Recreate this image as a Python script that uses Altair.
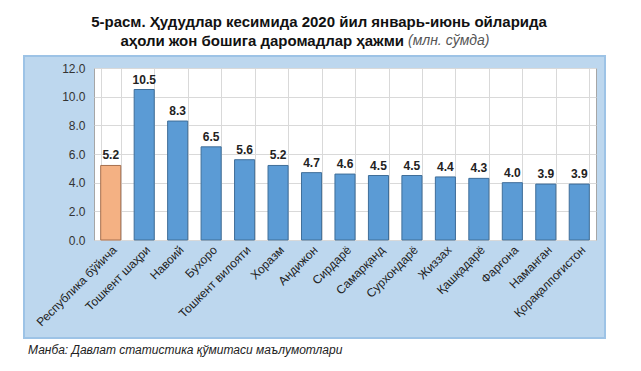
import altair as alt
import pandas as pd

regions = ["Республика бўйича", "Тошкент шаҳри", "Навоий", "Бухоро", "Тошкент вилояти",
           "Хоразм", "Андижон", "Сирдарё", "Самарқанд", "Сурхондарё", "Жиззах",
           "Қашқадарё", "Фарғона", "Наманган", "Қорақалпоғистон"]
values = [5.2, 10.5, 8.3, 6.5, 5.6, 5.2, 4.7, 4.6, 4.5, 4.5, 4.4, 4.3, 4.0, 3.9, 3.9]
kinds = ["total"] + ["region"] * 14

title_line1 = "5-расм. Ҳудудлар кесимида 2020 йил январь-июнь ойларида"
title_line2 = "аҳоли жон бошига даромадлар ҳажми"
title_unit = "(млн. сўмда)"
source = "Манба: Давлат статистика қўмитаси маълумотлари"

df = pd.DataFrame({"region": regions, "value": values, "kind": kinds})

W, H = 502, 172
FONT = "Liberation Sans"
PANEL = "#BDD7EE"
GRID = "#D9D9D9"

x = alt.X("region:N", sort=regions, title=None,
          scale=alt.Scale(paddingInner=0.4, paddingOuter=0.2),
          axis=alt.Axis(labelAngle=-45, labelFontSize=12, labelColor="#222",
                        labelFont=FONT, ticks=False, domain=False, grid=True,
                        tickBand="extent", gridColor=GRID, labelPadding=4,
                        labelLimit=200, labelOverlap=False))
y = alt.Y("value:Q", title=None,
          scale=alt.Scale(domain=[0, 12]),
          axis=alt.Axis(values=[0, 2, 4, 6, 8, 10, 12], format=".1f", ticks=False,
                        domain=False, grid=True, labelFontSize=12, labelColor="#333",
                        labelFont=FONT, labelPadding=9, gridColor=GRID,
                        labelOverlap=False))

bars = alt.Chart(df).mark_bar(strokeWidth=1).encode(
    x=x, y=y,
    fill=alt.Fill("kind:N", scale=alt.Scale(domain=["total", "region"],
                                            range=["#F4B183", "#5B9BD5"]), legend=None),
    stroke=alt.Stroke("kind:N", scale=alt.Scale(domain=["total", "region"],
                                                range=["#A66F4E", "#3F6E99"]), legend=None),
)

labels = alt.Chart(df).mark_text(dy=-10, fontWeight="bold", fontSize=12,
                                 font=FONT, color="#222").encode(
    x=x, y=y,
    text=alt.Text("value:Q", format=".1f"))

def rect(x1, x2, y1, y2, color):
    return alt.Chart(df.head(1)).mark_rect(fill=color, strokeWidth=0).encode(
        x=alt.value(x1), x2=alt.value(x2), y=alt.value(y1), y2=alt.value(y2))

# panel geometry relative to plot origin
PL, PR, PT, PB = -70, 511, -12, 270
white_strips = [
    rect(-300, 900, -300, PT, "white"),
    rect(-300, 900, PB, 600, "white"),
    rect(-300, PL, -300, 600, "white"),
    rect(PR, 900, -300, 600, "white"),
]
panel_border = alt.Chart(df.head(1)).mark_rect(fill=None, stroke="#9DC3E6", strokeWidth=2).encode(
    x=alt.value(PL), x2=alt.value(PR), y=alt.value(PT), y2=alt.value(PB))

def txt(s, xv, yv, **kw):
    return alt.Chart(pd.DataFrame({"t": [s]})).mark_text(font=FONT, baseline="middle", **kw).encode(
        text="t:N", x=alt.value(xv), y=alt.value(yv))

t1 = txt(title_line1, 225, -46, fontSize=15, fontWeight="bold", color="#111", align="center")
t2 = txt(title_line2, 310, -27, fontSize=15, fontWeight="bold", color="#111", align="right")
t3 = txt(title_unit, 314, -27, fontSize=14, fontStyle="italic", color="#555", align="left")
src = txt(source, -66, 282, fontSize=12, fontStyle="italic", color="#222", align="left")

chart = alt.layer(
    *white_strips, panel_border, bars, labels, t1, t2, t3, src
).properties(
    width=W, height=H,
    autosize=alt.AutoSizeParams(type="none"),
    padding={"left": 86, "top": 60, "right": 30, "bottom": 120},
).configure(
    background=PANEL,
).configure_view(
    fill="white", stroke="#A6A6A6", strokeWidth=1
)

chart.save("out.html", embed_options={"renderer": "svg", "actions": False})
